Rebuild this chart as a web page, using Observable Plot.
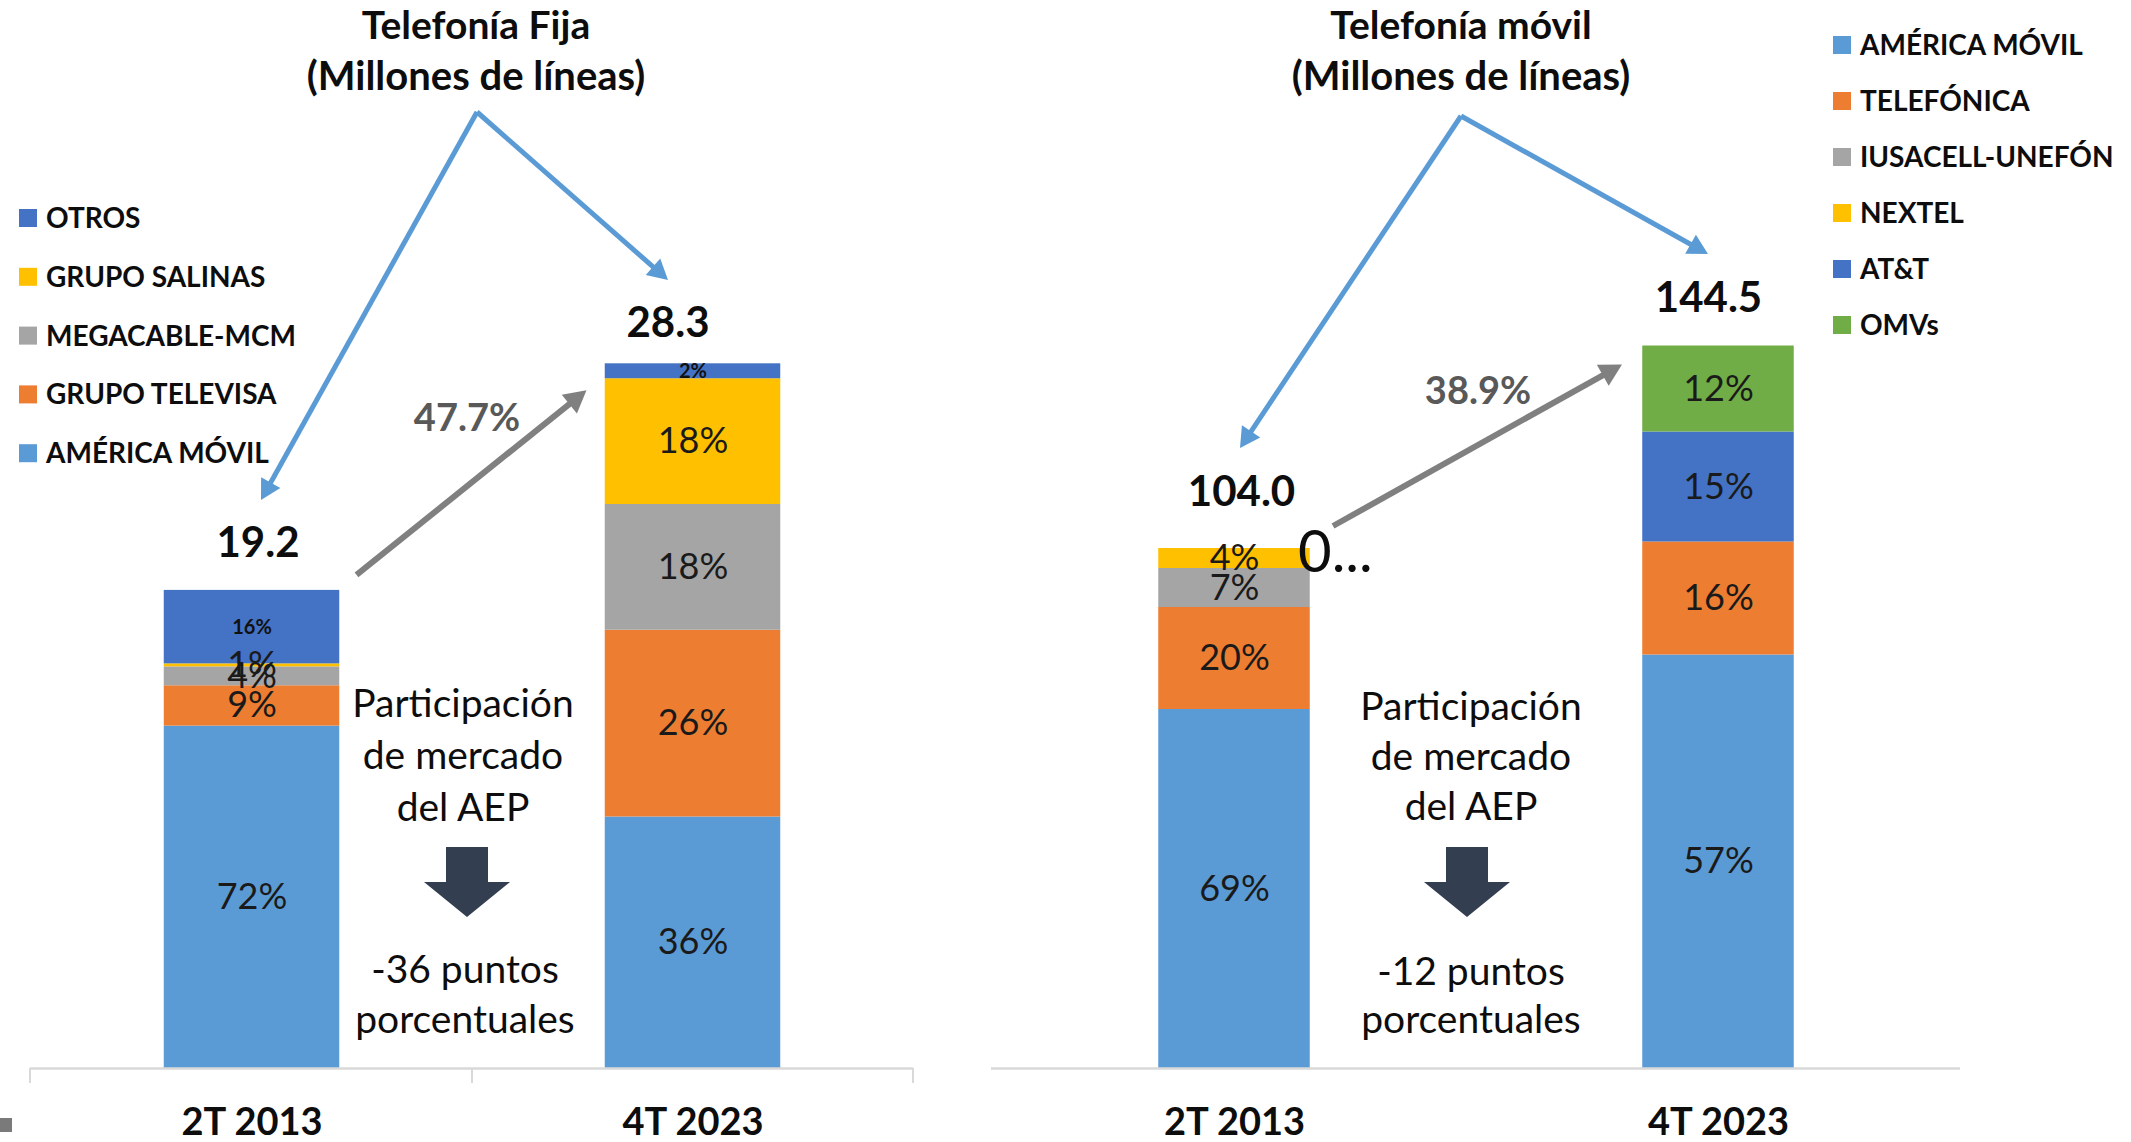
<!DOCTYPE html>
<html><head><meta charset="utf-8">
<script src="https://cdn.jsdelivr.net/npm/d3@7"></script>
<script src="https://cdn.jsdelivr.net/npm/@observablehq/plot@0.6"></script>
<style>
html,body{margin:0;padding:0;background:#fff;}
#wrap{position:relative;width:2131px;height:1142px;overflow:hidden;font-family:Lato,sans-serif;}
#wrap svg{position:absolute;top:0;}
</style></head><body><div id="wrap"></div>
<script>
// ---------- DATA ----------
const categories = ["2T 2013", "4T 2023"];

// Telefonía fija (millones de líneas), stacked bottom -> top
const fijaSeries = ["AMÉRICA MÓVIL", "GRUPO TELEVISA", "MEGACABLE-MCM", "GRUPO SALINAS", "OTROS"];
const fijaColors = ["#5B9BD5", "#ED7D31", "#A5A5A5", "#FFC000", "#4472C4"];
const fija2013 = [13.75, 1.62, 0.76, 0.12, 2.95];
const fija2023 = [10.1, 7.5, 5.05, 5.05, 0.6];
const fijaShare2013 = ["72%", "9%", "4%", "1%", "16%"];
const fijaShare2023 = ["36%", "26%", "18%", "18%", "2%"];
const fijaTotals = [19.2, 28.3];
const fijaGrowth = "47.7%";
const fijaAEP = ["-36 puntos", "porcentuales"];

// Telefonía móvil (millones de líneas), stacked bottom -> top
const movilSeries = ["AMÉRICA MÓVIL", "TELEFÓNICA", "IUSACELL-UNEFÓN", "NEXTEL", "AT&T", "OMVs"];
const movilColors = ["#5B9BD5", "#ED7D31", "#A5A5A5", "#FFC000", "#4472C4", "#70AD47"];
const movil2013 = [71.8, 20.4, 7.8, 4.0, 0, 0];
const movil2023 = [82.7, 22.6, 0, 0, 22.0, 17.2];
const movilShare2013 = ["69%", "20%", "7%", "4%", "", ""];
const movilShare2023 = ["57%", "16%", "", "", "15%", "12%"];
const movilTotals = [104.0, 144.5];
const movilGrowth = "38.9%";
const movilAEP = ["-12 puntos", "porcentuales"];

const aepText = ["Participación", "de mercado", "del AEP"];

// ---------- HELPERS ----------
const wrap = document.getElementById("wrap");
const FONT = "Lato, sans-serif";
const INK = "#0d0d0d";

function buildRows(series, vals, shares) {
  const rows = [];
  categories.forEach((c, ci) => series.forEach((s, si) => {
    const v = vals[ci][si];
    if (v > 0) rows.push({cat: c, series: s, value: v, label: shares[ci][si]});
  }));
  return rows;
}

function panel(o) {
  const rows = buildRows(o.series, o.vals, o.shares);
  const tot = categories.map((c, i) => ({cat: c, total: o.totals[i]}));
  const smallSeries = o.smallSeries;
  const plot = Plot.plot({
    width: o.width, height: 1142,
    marginTop: 0, marginBottom: 74, marginLeft: o.marginLeft, marginRight: o.marginRight,
    style: {background: "transparent", overflow: "visible", fontFamily: FONT, maxWidth: "none"},
    x: {domain: categories, padding: 0},
    y: {domain: [0, o.ymax], axis: null},
    color: {domain: o.series, range: o.colors},
    marks: [
      Plot.barY(rows, {x: "cat", y: "value", fill: "series", z: "series", insetLeft: o.inset, insetRight: o.inset}),
      Plot.text(rows, Plot.stackY({x: "cat", y: "value", z: "series",
        text: d => (d.series === smallSeries ? null : d.label),
        fontSize: 36, fill: "#1a1a1a"})),
      Plot.text(rows, Plot.stackY({x: "cat", y: "value", z: "series",
        text: d => (d.series === smallSeries ? d.label : null),
        fontSize: o.smallSize, fontWeight: "bold", fill: "#111"})),
      Plot.ruleY([0], {stroke: "#d9d9d9", strokeWidth: 2.5}),
      Plot.text(tot.filter(d => d.cat === categories[0]), {x: "cat", y: "total", text: d => d.total.toFixed(1),
        fontSize: 42, fontWeight: "bold", fill: INK, dx: o.tot0[0], dy: o.tot0[1]}),
      Plot.text(tot.filter(d => d.cat === categories[1]), {x: "cat", y: "total", text: d => d.total.toFixed(1),
        fontSize: 42, fontWeight: "bold", fill: INK, dx: o.tot1[0], dy: o.tot1[1]}),
      Plot.axisX({tickSize: 0, tickPadding: 40, fontSize: 38, fontWeight: "bold", fill: INK, label: null})
    ]
  });
  plot.style.left = o.left + "px";
  wrap.appendChild(plot);
  const svg = d3.select(plot);
  // work in page coordinates
  const g = svg.append("g").attr("transform", `translate(${-o.left},0)`);
  const xs = plot.scale("x"), ys = plot.scale("y");
  const center = c => o.left + xs.apply(c) + xs.bandwidth / 2;   // page x of a band centre
  const yp = v => ys.apply(v);                                   // page y of a value
  return {plot, g, xs, ys, center, yp, left: o.left};
}

function arrow(g, x1, y1, x2, y2, color, w, head) {
  const a = Math.atan2(y2 - y1, x2 - x1);
  const hw = head * 0.55;
  const bx = x2 - head * Math.cos(a), by = y2 - head * Math.sin(a);
  g.append("line").attr("x1", x1).attr("y1", y1).attr("x2", bx + Math.cos(a) * 2).attr("y2", by + Math.sin(a) * 2)
    .attr("stroke", color).attr("stroke-width", w);
  g.append("polygon")
    .attr("points", [[x2, y2], [bx + hw * Math.sin(a), by - hw * Math.cos(a)], [bx - hw * Math.sin(a), by + hw * Math.cos(a)]]
      .map(p => p.join(",")).join(" "))
    .attr("fill", color);
}

function text(g, x, y, str, size, weight, fill, anchor = "middle") {
  g.append("text").attr("x", x).attr("y", y).attr("text-anchor", anchor)
    .attr("font-family", FONT).attr("font-size", size).attr("font-weight", weight).attr("fill", fill).text(str);
}

function legend(g, series, colors, order, x, y0, step) {
  order.forEach((s, i) => {
    const cy = y0 + i * step;
    g.append("rect").attr("x", x).attr("y", cy - 9).attr("width", 18).attr("height", 18).attr("fill", colors[series.indexOf(s)]);
    text(g, x + 27, cy + 10, s, 28, "bold", INK, "start");
  });
}

function downArrow(g, cx, top) {
  const pts = [[cx - 21, top], [cx + 21, top], [cx + 21, top + 35], [cx + 43, top + 35], [cx, top + 70], [cx - 43, top + 35], [cx - 21, top + 35]];
  g.append("polygon").attr("points", pts.map(p => p.join(",")).join(" ")).attr("fill", "#333F50");
}

// ---------- FIJA ----------
const L = panel({
  left: 0, width: 980, marginLeft: 30, marginRight: 67, inset: 132.75, ymax: 42.89,
  series: fijaSeries, colors: fijaColors, vals: [fija2013, fija2023], shares: [fijaShare2013, fijaShare2023],
  totals: fijaTotals, smallSeries: "OTROS", smallSize: 20,
  tot0: [6, -47], tot1: [-25, -40]
});
{
  const {g, xs, yp, center} = L;
  const [r0, r1] = xs.range;
  const mid = (center(categories[0]) + center(categories[1])) / 2;
  [r0, mid, r1].forEach(x => g.append("line").attr("x1", x).attr("x2", x).attr("y1", yp(0)).attr("y2", yp(0) + 15)
    .attr("stroke", "#d9d9d9").attr("stroke-width", 2));
  text(g, 476, 39, "Telefonía Fija", 39, "bold", INK);
  text(g, 476, 90, "(Millones de líneas)", 40, "bold", INK);
  arrow(g, 477, 112, 261, 500, "#5B9BD5", 5, 20);
  arrow(g, 477, 112, 668, 280, "#5B9BD5", 5, 20);
  legend(g, fijaSeries, fijaColors, ["OTROS", "GRUPO SALINAS", "MEGACABLE-MCM", "GRUPO TELEVISA", "AMÉRICA MÓVIL"], 19, 218, 58.8);
  const c0 = center(categories[0]), c1 = center(categories[1]);
  arrow(g, c0 + 105, yp(fijaTotals[0]) - 15, c1 - 106, yp(fijaTotals[1]) + 27, "#808080", 6, 22);
  text(g, 467, 431, fijaGrowth, 38, "bold", "#595959");
  aepText.forEach((t, i) => text(g, 463, 717 + i * 52, t, 39, "normal", INK));
  downArrow(g, 467, 847);
  fijaAEP.forEach((t, i) => text(g, 465, 983 + i * 50, t, 39, "normal", INK));
  g.append("rect").attr("x", 0).attr("y", 1118).attr("width", 12).attr("height", 14).attr("fill", "#7a7a7a");
}

// ---------- MÓVIL ----------
const R = panel({
  left: 980, width: 1151, marginLeft: 11, marginRight: 171, inset: 166.25, ymax: 213.6,
  series: movilSeries, colors: movilColors, vals: [movil2013, movil2023], shares: [movilShare2013, movilShare2023],
  totals: movilTotals, smallSeries: "__none__", smallSize: 20,
  tot0: [7, -56], tot1: [-10, -47]
});
{
  const {g, xs, yp, center} = R;
  text(g, 1461, 39, "Telefonía móvil", 39, "bold", INK);
  text(g, 1461, 90, "(Millones de líneas)", 40, "bold", INK);
  arrow(g, 1461, 116, 1240, 448, "#5B9BD5", 5, 20);
  arrow(g, 1461, 116, 1708, 254, "#5B9BD5", 5, 20);
  legend(g, movilSeries, movilColors, movilSeries, 1833, 45, 56);
  const c0 = center(categories[0]), c1 = center(categories[1]);
  // truncated data label of the zero-valued series on the 2013 bar
  text(g, c0 + 64, yp(movilTotals[0]) + 24, "0...", 58, "normal", INK, "start");
  arrow(g, c0 + 99, yp(movilTotals[0]) - 22, c1 - 96, yp(movilTotals[1]) + 19, "#808080", 6, 22);
  text(g, 1478, 404, movilGrowth, 38, "bold", "#595959");
  aepText.forEach((t, i) => text(g, 1471, 720 + i * 50, t, 39, "normal", INK));
  downArrow(g, 1467, 847);
  movilAEP.forEach((t, i) => text(g, 1471, 985 + i * 48, t, 39, "normal", INK));
}
</script></body></html>
